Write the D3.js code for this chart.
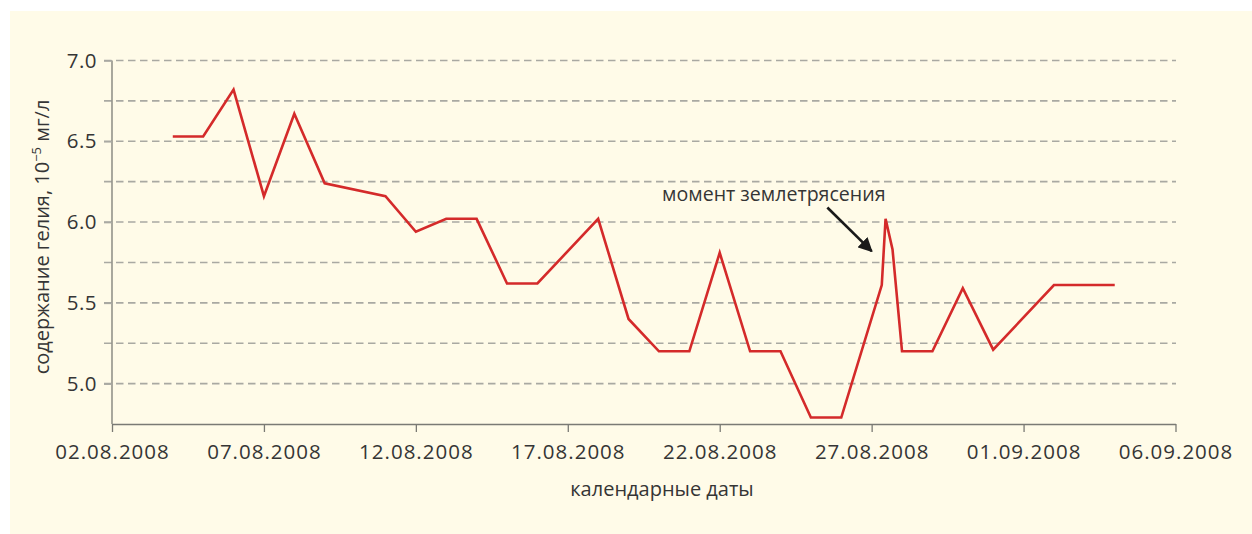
<!DOCTYPE html>
<html>
<head>
<meta charset="utf-8">
<script src="https://cdn.jsdelivr.net/npm/d3@7"></script>
<style>
  html, body { margin: 0; padding: 0; background: #ffffff; }
  svg { display: block; }
  text { font-family: "Open Sans", "Noto Sans", sans-serif; fill: #353535; }
</style>
</head>
<body>
<svg id="chart" width="1252" height="534"></svg>
<script>
// Helium content measurements (10^-5 mg/l) by calendar date
const dates = [
  "04.08.2008 00:00", "05.08.2008 00:00", "06.08.2008 00:00", "07.08.2008 00:00",
  "08.08.2008 00:00", "09.08.2008 00:00", "11.08.2008 00:00", "12.08.2008 00:00",
  "13.08.2008 00:00", "14.08.2008 00:00", "15.08.2008 00:00", "16.08.2008 00:00",
  "18.08.2008 00:00", "19.08.2008 00:00", "20.08.2008 00:00", "21.08.2008 00:00",
  "22.08.2008 00:00", "23.08.2008 00:00", "24.08.2008 00:00", "25.08.2008 00:00",
  "26.08.2008 00:00", "27.08.2008 08:00", "27.08.2008 11:00", "27.08.2008 16:30",
  "28.08.2008 00:00", "29.08.2008 00:00", "30.08.2008 00:00", "31.08.2008 00:00",
  "02.09.2008 00:00", "04.09.2008 00:00"
];
const helium = [
  6.53, 6.53, 6.82, 6.16,
  6.67, 6.24, 6.16, 5.94,
  6.02, 6.02, 5.62, 5.62,
  6.02, 5.40, 5.20, 5.20,
  5.81, 5.20, 5.20, 4.79,
  4.79, 5.61, 6.02, 5.83,
  5.20, 5.20, 5.59, 5.21,
  5.61, 5.61
];

// Axis ticks
const xTickDates = ["02.08.2008", "07.08.2008", "12.08.2008", "17.08.2008",
                    "22.08.2008", "27.08.2008", "01.09.2008", "06.09.2008"];
const yTickValues = [5.0, 5.5, 6.0, 6.5, 7.0];
const yGridValues = [5.0, 5.25, 5.5, 5.75, 6.0, 6.25, 6.5, 6.75, 7.0];
const yDomain = [4.75, 7.0];

// Earthquake annotation (data space)
const quakeLabel = "момент землетрясения";
const quakeLabelAt = ["27.08.2008 11:00", 6.13];
const quakeArrowFrom = ["25.08.2008 13:00", 6.09];
const quakeArrowTo = ["27.08.2008 00:00", 5.82];

const parseDT = d3.utcParse("%d.%m.%Y %H:%M");
const parseD = d3.utcParse("%d.%m.%Y");
const fmtD = d3.utcFormat("%d.%m.%Y");

const svg = d3.select("#chart");
const W = 1252, H = 534;

// cream panel
svg.append("rect").attr("x", 10).attr("y", 11).attr("width", W - 10).attr("height", H - 11)
  .attr("fill", "#fffbe8");

const x = d3.scaleUtc()
  .domain([parseD(xTickDates[0]), parseD(xTickDates[xTickDates.length - 1])])
  .range([112, 1175.5]);
const y = d3.scaleLinear().domain(yDomain).range([424, 60.5]);

// dashed grid
svg.append("g").selectAll("line").data(yGridValues).join("line")
  .attr("x1", 104).attr("x2", 1176)
  .attr("y1", d => y(d)).attr("y2", d => y(d))
  .attr("stroke", "#a9a9a2").attr("stroke-width", 1.6)
  .attr("stroke-dasharray", "7.5,4.5");

// y axis
const yAxis = d3.axisLeft(y).tickValues(yTickValues).tickFormat(d3.format(".1f"))
  .tickSize(8).tickPadding(7);
const gy = svg.append("g").attr("transform", "translate(112,0)").call(yAxis);
gy.select(".domain").attr("d", `M0,${y(yDomain[1])}V${y(yDomain[0])}`)
  .attr("stroke", "#7a7a74").attr("stroke-width", 1.3);
gy.selectAll(".tick line").attr("stroke", "#a9a9a2").attr("stroke-width", 1.6);
gy.selectAll(".tick text").attr("font-size", 20.5).attr("fill", "#353535")
  .attr("font-family", "'Open Sans', 'Noto Sans', sans-serif").attr("letter-spacing", "0.5px");

// x axis
const xAxis = d3.axisBottom(x).tickValues(xTickDates.map(parseD)).tickFormat(fmtD)
  .tickSizeInner(8).tickSizeOuter(0).tickPadding(12);
const gx = svg.append("g").attr("transform", "translate(0,424)").call(xAxis);
gx.select(".domain").attr("stroke", "#7a7a74").attr("stroke-width", 1.3);
gx.selectAll(".tick line").attr("stroke", "#7a7a74").attr("stroke-width", 1.3);
gx.selectAll(".tick text").attr("font-size", 20.5).attr("fill", "#353535")
  .attr("font-family", "'Open Sans', 'Noto Sans', sans-serif").attr("letter-spacing", "1px");

// helium line
const pts = dates.map((d, i) => [parseDT(d), helium[i]]);
svg.append("path").datum(pts)
  .attr("fill", "none").attr("stroke", "#d42a2a").attr("stroke-width", 2.6)
  .attr("stroke-linejoin", "miter")
  .attr("d", d3.line().x(d => x(d[0])).y(d => y(d[1])));

// axis titles
svg.append("text").attr("x", 662).attr("y", 496).attr("text-anchor", "middle")
  .attr("font-size", 20).text("календарные даты");

const yt = svg.append("text")
  .attr("transform", "translate(49,237) rotate(-90)")
  .attr("text-anchor", "middle").attr("font-size", 20);
yt.append("tspan").text("содержание гелия, 10");
yt.append("tspan").attr("font-size", 13).attr("dy", -8).text("−5");
yt.append("tspan").attr("dy", 8).text(" мг/л");

// earthquake annotation
svg.append("defs").append("marker")
  .attr("id", "arrowhead").attr("viewBox", "0 0 10 10")
  .attr("refX", 9).attr("refY", 5)
  .attr("markerWidth", 5.5).attr("markerHeight", 5.5).attr("orient", "auto")
  .append("path").attr("d", "M0,0L10,5L0,10z").attr("fill", "#1a1a1a");

svg.append("line")
  .attr("x1", x(parseDT(quakeArrowFrom[0]))).attr("y1", y(quakeArrowFrom[1]))
  .attr("x2", x(parseDT(quakeArrowTo[0]))).attr("y2", y(quakeArrowTo[1]))
  .attr("stroke", "#1a1a1a").attr("stroke-width", 2.6)
  .attr("marker-end", "url(#arrowhead)");

svg.append("text")
  .attr("x", x(parseDT(quakeLabelAt[0]))).attr("y", y(quakeLabelAt[1]))
  .attr("text-anchor", "end").attr("font-size", 19.6).text(quakeLabel);
</script>
</body>
</html>
